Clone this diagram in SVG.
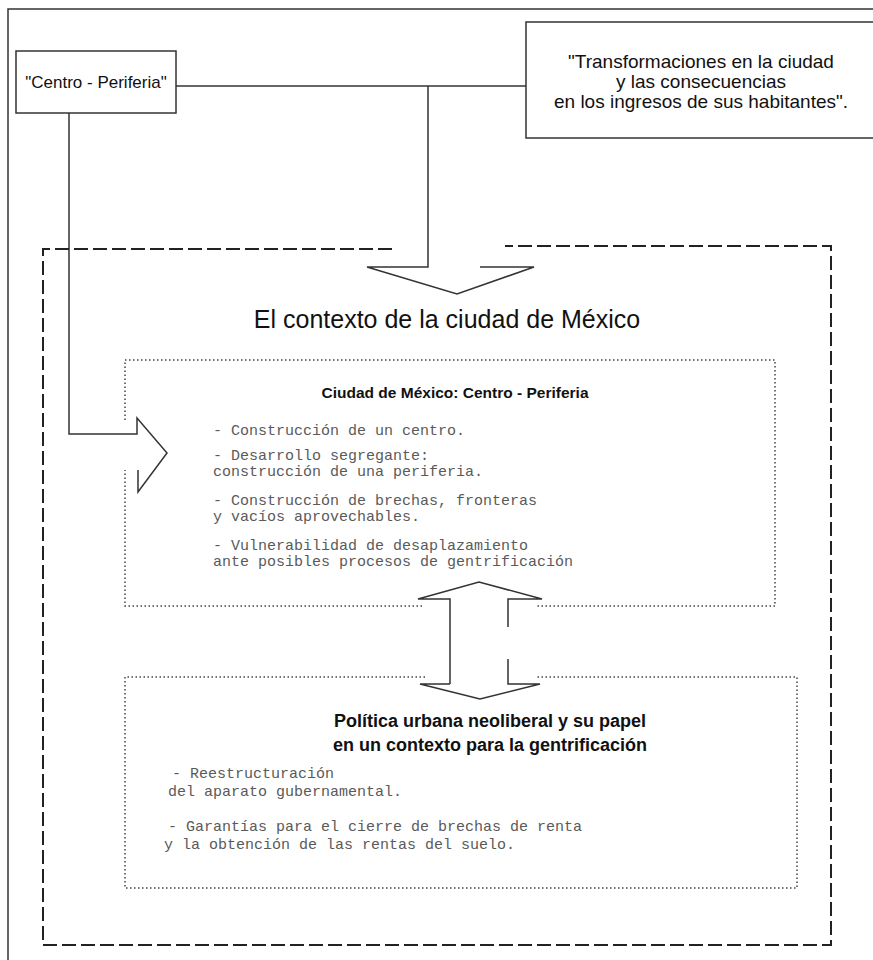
<svg xmlns="http://www.w3.org/2000/svg" width="873" height="960" viewBox="0 0 873 960">
<style>
.ln{fill:none;stroke:#333;stroke-width:1.5}
.box{fill:#fff;stroke:#333;stroke-width:1.5}
.dash{fill:none;stroke:#222;stroke-width:2;stroke-dasharray:14 5}
.dot{fill:none;stroke:#444;stroke-width:1.5;stroke-dasharray:1.5 2.5}
.sans{font-family:"Liberation Sans",Arial,sans-serif;fill:#111}
.mono{font-family:"Liberation Mono","Courier New",monospace;font-size:15px;fill:#5a5a5a}
.t{text-anchor:middle}
</style>
<rect width="873" height="960" fill="#fff"/>
<path class="ln" d="M8,960 V9 H873"/>
<g id="connectors">
<path class="ln" d="M176,86 H526"/>
<path class="ln" d="M428,86 V267 H367 L457,294 L534,267 H480"/>
<path class="ln" d="M69,113 V434 H137 V418 L167,453 L138,492 V470"/>
<path class="ln" d="M450,684 V599 H418 L479,582 L542,599 H508 V627 M508,659 V684 H540 L480,699 L420,684 H450"/>
</g>
<g id="centro">
<rect class="box" x="16" y="51" width="160" height="62"/>
<text class="sans t" x="96" y="88" font-size="17">"Centro - Periferia"</text>
</g>
<g id="transformaciones">
<rect class="box" x="526" y="22" width="350" height="116"/>
<text class="sans t" x="701" y="68" font-size="19">"Transformaciones en la ciudad</text>
<text class="sans t" x="701" y="88" font-size="19">y las consecuencias</text>
<text class="sans t" x="701" y="108" font-size="19">en los ingresos de sus habitantes".</text>
</g>
<g id="contexto">
<path class="dash" d="M392,249 H43 V945 H831 V246 H505"/>
<text class="sans t" x="447" y="328" font-size="25">El contexto de la ciudad de México</text>
</g>
<g id="centro-periferia">
<path class="dot" d="M422,606 H125 V470 M125,420 V360 H775 V606 H537"/>
<text class="sans t" x="455" y="398" font-size="15.5" font-weight="bold">Ciudad de México: Centro - Periferia</text>
<text class="mono" x="213" y="435">- Construcción de un centro.</text>
<text class="mono" x="213" y="460">- Desarrollo segregante:</text>
<text class="mono" x="213" y="476">construcción de una periferia.</text>
<text class="mono" x="213" y="505">- Construcción de brechas, fronteras</text>
<text class="mono" x="213" y="521">y vacíos aprovechables.</text>
<text class="mono" x="213" y="550">- Vulnerabilidad de desaplazamiento</text>
<text class="mono" x="213" y="566">ante posibles procesos de gentrificación</text>
</g>
<g id="politica">
<path class="dot" d="M425,677 H125 V888 H797 V677 H535"/>
<text class="sans t" x="490" y="727" font-size="18" font-weight="bold">Política urbana neoliberal y su papel</text>
<text class="sans t" x="490" y="751" font-size="18" font-weight="bold">en un contexto para la gentrificación</text>
<text class="mono" x="172" y="778">- Reestructuración</text>
<text class="mono" x="168" y="796">del aparato gubernamental.</text>
<text class="mono" x="168" y="831">- Garantías para el cierre de brechas de renta</text>
<text class="mono" x="164" y="849">y la obtención de las rentas del suelo.</text>
</g>
</svg>
